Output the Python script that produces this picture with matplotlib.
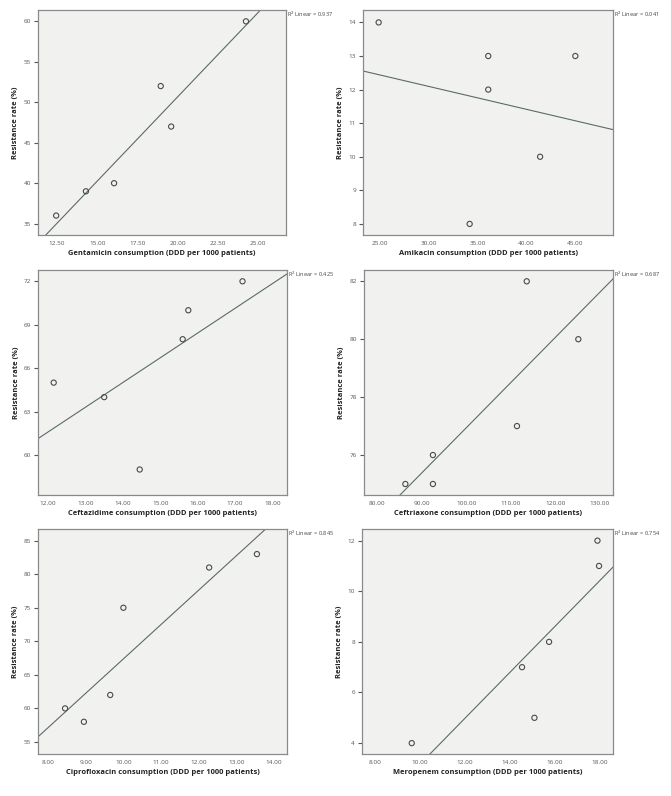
import matplotlib
matplotlib.use("Agg")
import matplotlib.pyplot as plt
import numpy as np

plt.rcParams['font.family'] = ['Open Sans', 'DejaVu Sans']

# data
drugs = ["Gentamicin", "Amikacin", "Ceftazidime", "Ceftriaxone", "Ciprofloxacin", "Meropenem"]

genta_x = [12.45, 14.3, 16.05, 18.95, 19.6, 24.25]
genta_y = [36, 39, 40, 52, 47, 60]

amika_x = [24.9, 36.1, 36.1, 45.0, 41.4, 34.2]
amika_y = [14, 13, 12, 13, 10, 8]

cefta_x = [12.15, 13.5, 14.45, 15.6, 15.75, 17.2]
cefta_y = [65, 64, 59, 68, 70, 72]

ceftr_x = [86.3, 92.5, 92.5, 111.4, 113.6, 125.2]
ceftr_y = [75, 76, 75, 77, 82, 80]

cipro_x = [8.45, 8.95, 9.65, 10.0, 12.28, 13.55]
cipro_y = [60, 58, 62, 75, 81, 83]

merop_x = [9.65, 14.55, 15.1, 15.75, 17.9, 17.97]
merop_y = [4, 7, 5, 8, 12, 11]

r2_labels = ["0.937", "0.041", "0.425", "0.687", "0.845", "0.754"]

xs = [genta_x, amika_x, cefta_x, ceftr_x, cipro_x, merop_x]
ys = [genta_y, amika_y, cefta_y, ceftr_y, cipro_y, merop_y]

xticks = [np.arange(12.5, 25.01, 2.5), np.arange(25, 45.01, 5), np.arange(12, 18.01, 1),
          np.arange(80, 130.01, 10), np.arange(8, 14.01, 1), np.arange(8, 18.01, 2)]
yticks = [np.arange(35, 60.1, 5), np.arange(8, 14.1, 1), np.arange(60, 72.1, 3),
          np.arange(76, 82.1, 2), np.arange(55, 85.1, 5), np.arange(4, 12.1, 2)]
xlims = [(11.32, 26.74), (23.3, 48.85), (11.73, 18.39), (77.0, 133.0), (7.73, 14.35), (7.44, 18.59)]
ylims = [(33.6, 61.4), (7.67, 14.37), (57.24, 72.78), (74.62, 82.39), (53.2, 86.74), (3.57, 12.46)]

# axes boxes in pixels (left, top, right, bottom)
boxes = [(38, 10, 286, 235), (363, 10, 613, 235),
         (38, 270, 287, 495), (364, 270, 613, 495),
         (38, 529, 287, 754), (362, 529, 613, 754)]

W, H = 671, 796
fig = plt.figure(figsize=(W / 100, H / 100), dpi=100)

for i in range(6):
    l, t, r, b = boxes[i]
    ax = fig.add_axes([l / W, 1 - b / H, (r - l) / W, (b - t) / H])
    ax.set_facecolor('#f1f2f0')
    for s in ax.spines.values():
        s.set_color('#8a8a8a')
        s.set_linewidth(0.9)

    x = np.array(xs[i])
    y = np.array(ys[i])
    ax.scatter(x, y, s=14, facecolors='none', edgecolors='#4a4a4a', linewidths=0.8, zorder=3)

    # linear fit across the whole plot area
    k, c = np.polyfit(x, y, 1)
    xx = np.array(xlims[i])
    ax.plot(xx, k * xx + c, color='#5a6a6a', linewidth=0.8)

    ax.set_xlim(xlims[i])
    ax.set_ylim(ylims[i])
    ax.set_xticks(xticks[i])
    ax.set_yticks(yticks[i])
    ax.set_xticklabels(["%.2f" % v for v in xticks[i]])
    ax.set_yticklabels(["%d" % v for v in yticks[i]])
    ax.tick_params(axis='x', length=0, pad=4, labelsize=4.6, colors='#555555')
    ax.tick_params(axis='y', length=3, width=0.8, pad=2, labelsize=4.6, colors='#555555')

    ax.set_xlabel(drugs[i] + " consumption (DDD per 1000 patients)", fontsize=5.4,
                  fontweight='bold', color='#222222', labelpad=3)
    ax.set_ylabel("Resistance rate (%)", fontsize=5.4, fontweight='bold', color='#222222', labelpad=3)

    ax.text(1.003, 0.98, "R$^2$ Linear = " + r2_labels[i], transform=ax.transAxes,
            fontsize=4.1, color='#444444', ha='left', va='center')

fig.savefig("out.png", dpi=100, facecolor='white')
